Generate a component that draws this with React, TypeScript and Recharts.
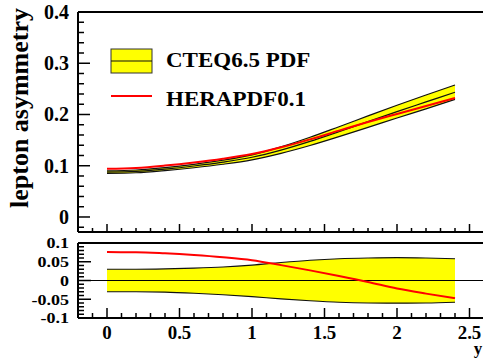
import { ComposedChart, Area, Line, XAxis, YAxis, ReferenceLine } from 'recharts';

// rapidity points and values
const rapidity = [0, 0.2, 0.4, 0.6, 0.8, 1.0, 1.2, 1.4, 1.6, 1.8, 2.0, 2.2, 2.4];
const cteqCentral = [0.0875, 0.089, 0.0935, 0.0995, 0.107, 0.1165, 0.1305, 0.1475, 0.1665, 0.186, 0.2055, 0.2245, 0.2435];
const cteqUpper = [0.0901, 0.0917, 0.0964, 0.1028, 0.1109, 0.1213, 0.1368, 0.1555, 0.1762, 0.1972, 0.218, 0.238, 0.2576];
const cteqLower = [0.0849, 0.0863, 0.0906, 0.0961, 0.1029, 0.1115, 0.1241, 0.1395, 0.1568, 0.1748, 0.1931, 0.211, 0.2294];
const heraAsym = [0.0941, 0.0957, 0.1003, 0.1063, 0.1136, 0.1228, 0.1359, 0.1515, 0.1685, 0.1853, 0.2011, 0.2166, 0.2321];

const ratioUpper = [0.03, 0.03, 0.031, 0.033, 0.036, 0.041, 0.048, 0.054, 0.058, 0.06, 0.061, 0.06, 0.058];
const ratioLower = [-0.03, -0.03, -0.031, -0.034, -0.038, -0.043, -0.049, -0.054, -0.058, -0.06, -0.0605, -0.06, -0.058];
const heraRatio = [0.0757, 0.0755, 0.0725, 0.068, 0.062, 0.054, 0.041, 0.027, 0.012, -0.004, -0.0216, -0.035, -0.047];

const xLabels = [0, 0.5, 1, 1.5, 2, 2.5];
const topYLabels = [0, 0.1, 0.2, 0.3, 0.4];
const ratioYLabels = [-0.1, -0.05, 0, 0.05, 0.1];

const range = (a: number, b: number, step: number) => {
    const n = Math.round((b - a) / step);
    return Array.from({ length: n + 1 }, (_, i) => +(a + i * step).toFixed(4));
};
const xTicks = range(-0.2, 2.6, 0.1);
const topYTicks = range(-0.02, 0.4, 0.02);
const ratioYTicks = range(-0.1, 0.1, 0.01);

const isMajor = (v: number, labels: number[]) => labels.some(l => Math.abs(l - v) < 1e-6);

const data = rapidity.map((y, i) => ({
    y,
    central: cteqCentral[i],
    up: cteqUpper[i],
    lo: cteqLower[i],
    band: [cteqLower[i], cteqUpper[i]],
    hera: heraAsym[i],
    rUp: ratioUpper[i],
    rLo: ratioLower[i],
    rBand: [ratioLower[i], ratioUpper[i]],
    rHera: heraRatio[i],
}));

const FONT = '"Liberation Serif", "Times New Roman", serif';
const W = 485;

const bottomTick = (major: number, minor: number, showLabel: boolean) => (p: any) => {
    const v = p.payload.value;
    const big = isMajor(v, xLabels);
    return (
        <g>
            <line x1={p.x} x2={p.x} y1={p.y} y2={p.y - (big ? major : minor)} stroke="#000" strokeWidth={1.5} />
            {showLabel && big && (
                <text transform={`translate(${p.x},${p.y + 21}) scale(1.05,1)`} textAnchor="middle"
                    fontFamily={FONT} fontWeight="bold" fontSize={18} fill="#000">{String(v)}</text>
            )}
        </g>
    );
};

const leftTick = (labels: number[], major: number, minor: number, fs: number, sx: number) => (p: any) => {
    const v = p.payload.value;
    const big = isMajor(v, labels);
    return (
        <g>
            <line x1={p.x} x2={p.x + (big ? major : minor)} y1={p.y} y2={p.y} stroke="#000" strokeWidth={1.5} />
            {big && (
                <text transform={`translate(${p.x - 9},${p.y + fs * 0.35}) scale(${sx},1)`} textAnchor="end"
                    fontFamily={FONT} fontWeight="bold" fontSize={fs} fill="#000">{String(v)}</text>
            )}
        </g>
    );
};

const rightTick = (labels: number[], major: number, minor: number) => (p: any) => {
    const big = isMajor(p.payload.value, labels);
    return <line x1={p.x} x2={p.x - (big ? major : minor)} y1={p.y} y2={p.y} stroke="#000" strokeWidth={1.5} />;
};

const frame = { stroke: '#000', strokeWidth: 2 };

export default function App() {
    return (
        <div style={{ position: 'absolute', left: 0, top: 0, width: 483, height: 358, overflow: 'hidden', background: '#fff' }}>
            <div style={{ position: 'absolute', left: 0, top: 0 }}>
                <ComposedChart width={W} height={240} data={data} margin={{ top: 11, right: 0, bottom: 7, left: 77 }}>
                    <XAxis dataKey="y" type="number" domain={[-0.2, 2.6]} ticks={xTicks} interval={0} height={1}
                        tickSize={0} tickMargin={0} tickLine={false} axisLine={frame} tick={bottomTick(8, 4, false)} />
                    <XAxis xAxisId="top" orientation="top" type="number" domain={[-0.2, 2.6]} height={1} tick={false}
                        tickLine={false} axisLine={frame} />
                    <YAxis type="number" domain={[-0.0293, 0.4]} ticks={topYTicks} interval={0} width={1}
                        tickSize={0} tickMargin={0} tickLine={false} axisLine={frame} tick={leftTick(topYLabels, 12, 6, 20, 1)} />
                    <YAxis yAxisId="right" orientation="right" type="number" domain={[-0.0293, 0.4]} ticks={topYTicks}
                        interval={0} width={1} tickSize={0} tickMargin={0} tickLine={false} axisLine={frame}
                        tick={rightTick(topYLabels, 12, 6)} />
                    <Area dataKey="band" type="monotone" fill="#ffff00" fillOpacity={1} stroke="none" isAnimationActive={false} />
                    <Line dataKey="up" type="monotone" stroke="#111" strokeWidth={1.2} dot={false} isAnimationActive={false} />
                    <Line dataKey="lo" type="monotone" stroke="#111" strokeWidth={1.2} dot={false} isAnimationActive={false} />
                    <Line dataKey="central" type="monotone" stroke="#111" strokeWidth={1.2} dot={false} isAnimationActive={false} />
                    <Line dataKey="hera" type="monotone" stroke="#ff0000" strokeWidth={2} dot={false} isAnimationActive={false} />
                </ComposedChart>
            </div>
            <div style={{ position: 'absolute', left: 0, top: 230 }}>
                <ComposedChart width={W} height={128} data={data} margin={{ top: 12, right: 0, bottom: 39, left: 77 }}>
                    <XAxis dataKey="y" type="number" domain={[-0.2, 2.6]} ticks={xTicks} interval={0} height={1}
                        tickSize={0} tickMargin={0} tickLine={false} axisLine={frame} tick={bottomTick(10, 5, true)} />
                    <XAxis xAxisId="top" orientation="top" type="number" domain={[-0.2, 2.6]} height={1} tick={false}
                        tickLine={false} axisLine={frame} />
                    <YAxis type="number" domain={[-0.1, 0.1]} ticks={ratioYTicks} interval={0} width={1}
                        tickSize={0} tickMargin={0} tickLine={false} axisLine={frame} tick={leftTick(ratioYLabels, 13, 6, 15, 1.2)} />
                    <YAxis yAxisId="right" orientation="right" type="number" domain={[-0.1, 0.1]} ticks={ratioYTicks}
                        interval={0} width={1} tickSize={0} tickMargin={0} tickLine={false} axisLine={frame}
                        tick={rightTick(ratioYLabels, 13, 7)} />
                    <Area dataKey="rBand" type="monotone" fill="#ffff00" fillOpacity={1} stroke="none" isAnimationActive={false} />
                    <Line dataKey="rUp" type="monotone" stroke="#111" strokeWidth={1.2} dot={false} isAnimationActive={false} />
                    <Line dataKey="rLo" type="monotone" stroke="#111" strokeWidth={1.2} dot={false} isAnimationActive={false} />
                    <ReferenceLine y={0} stroke="#000" strokeWidth={1.2} />
                    <Line dataKey="rHera" type="monotone" stroke="#ff0000" strokeWidth={2} dot={false} isAnimationActive={false} />
                </ComposedChart>
            </div>
            <svg width={483} height={358} style={{ position: 'absolute', left: 0, top: 0, pointerEvents: 'none' }}>
                <text transform="translate(28,108) rotate(-90)" textAnchor="middle" fontFamily={FONT}
                    fontWeight="bold" fontSize={26} fill="#000">lepton asymmetry</text>
                <rect x={111} y={49} width={41} height={24} fill="#ffff00" stroke="#333" strokeWidth={1} />
                <line x1={111} x2={152} y1={61} y2={61} stroke="#111" strokeWidth={1.2} />
                <text transform="translate(166,67) scale(1.15,1)" fontFamily={FONT} fontWeight="bold" fontSize={20} fill="#000">CTEQ6.5 PDF</text>
                <line x1={111} x2={152} y1={96} y2={96} stroke="#ff0000" strokeWidth={2} />
                <text transform="translate(166,106) scale(1.15,1)" fontFamily={FONT} fontWeight="bold" fontSize={20} fill="#000">HERAPDF0.1</text>
                <text x={478} y={354} textAnchor="middle" fontFamily={FONT} fontWeight="bold" fontSize={17} fill="#000">y</text>
            </svg>
        </div>
    );
}
